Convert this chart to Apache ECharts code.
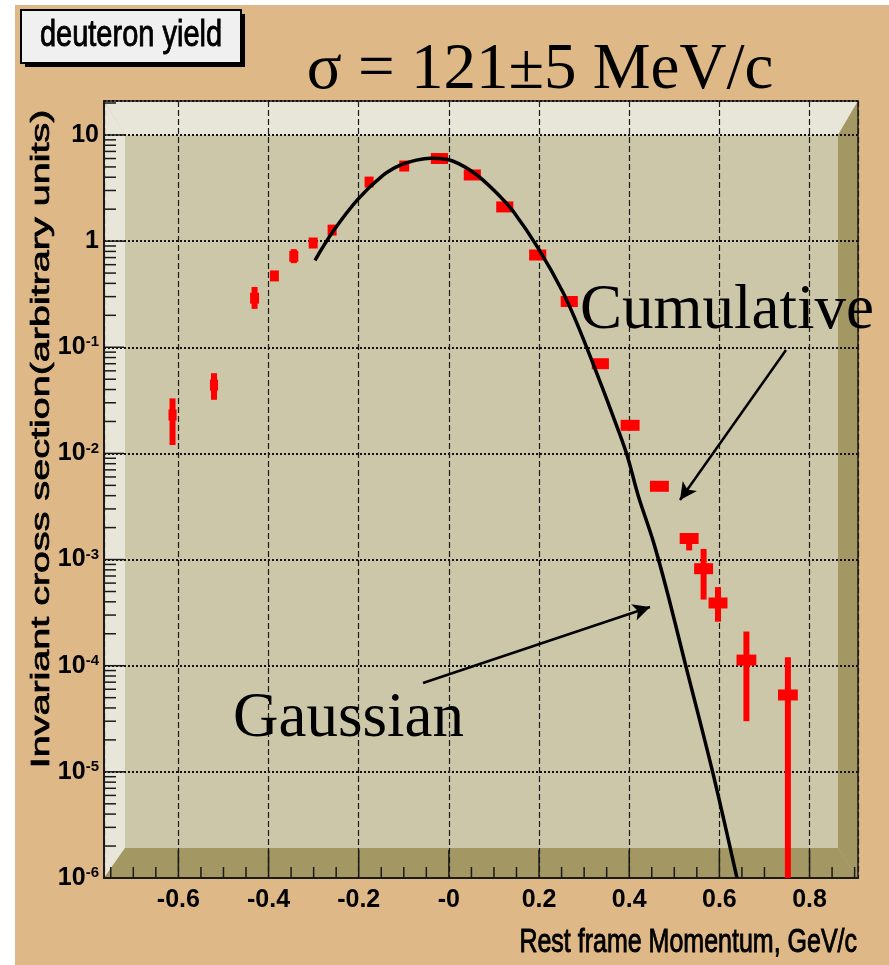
<!DOCTYPE html>
<html>
<head>
<meta charset="utf-8">
<title>deuteron yield</title>
<script src="https://cdn.jsdelivr.net/npm/echarts@6/dist/echarts.min.js"></script>
<style>
  html, body { margin: 0; padding: 0; background: #fff; }
  #main { width: 889px; height: 965px; }
</style>
</head>
<body>
<div id="main"></div>
<script>
// measured deuteron yield: momentum (GeV/c), value, error band, half bin width
var pointX    = [-0.613, -0.521, -0.431, -0.387, -0.344, -0.301, -0.259, -0.177, -0.099, -0.021, 0.052,
                 0.124, 0.197, 0.267, 0.336, 0.402, 0.467, 0.533, 0.565, 0.597, 0.660, 0.752];
var pointY    = [0.023, 0.044, 0.29, 0.47, 0.72, 0.96, 1.27, 3.6, 5.1, 6.0, 4.2,
                 2.1, 0.74, 0.27, 0.070, 0.0184, 0.0049, 0.00158, 0.00082, 0.00039, 0.000113, 0.000053];
var pointLo   = [0.012, 0.032, 0.23, 0.43, 0.62, 0.87, 1.15, 3.3, 4.7, 5.5, 3.9,
                 1.9, 0.68, 0.25, 0.064, 0.017, 0.0045, 0.00122, 0.00042, 0.00026, 0.00003, 0.000001];
var pointHi   = [0.033, 0.057, 0.37, 0.52, 0.84, 1.06, 1.40, 4.0, 5.5, 6.5, 4.6,
                 2.3, 0.80, 0.29, 0.076, 0.020, 0.0053, 0.00172, 0.00126, 0.00055, 0.00021, 0.00012];
var pointXErr = [0.009, 0.009, 0.010, 0.010, 0.010, 0.010, 0.010, 0.010, 0.011, 0.019, 0.019,
                 0.019, 0.019, 0.019, 0.019, 0.021, 0.021, 0.021, 0.021, 0.021, 0.022, 0.022];

// gaussian fit curve
var curveX = [-0.297, -0.256, -0.201, -0.145, -0.108, -0.072, -0.040, -0.005, 0.054, 0.113,
              0.143, 0.198, 0.253, 0.290, 0.341, 0.360, 0.394, 0.420, 0.453, 0.483, 0.523, 0.585, 0.639];
var curveY = [0.66, 1.25, 2.5, 4.2, 5.2, 5.8, 6.05, 5.9, 4.45, 2.65,
              1.9, 0.86, 0.33, 0.146, 0.041, 0.025, 0.0100, 0.0040, 0.00150, 0.00052, 0.000110, 0.0000100, 0.0000010];

var xMajorTicks = [-0.6, -0.4, -0.2, 0, 0.2, 0.4, 0.6, 0.8];
var xMinorTicks = [-0.75, -0.7, -0.65, -0.55, -0.5, -0.45, -0.35, -0.3, -0.25, -0.15, -0.1, -0.05,
                   0.05, 0.1, 0.15, 0.25, 0.3, 0.35, 0.45, 0.5, 0.55, 0.65, 0.7, 0.75, 0.85, 0.9];
var yDecades = [1e-6, 1e-5, 1e-4, 1e-3, 1e-2, 1e-1, 1, 10];
var yMinorFactors = [2, 3, 4, 5, 6, 7, 8, 9];

var xMin = -0.765, xMax = 0.9075;
var yMin = 1e-6, yMax = 20.9;

var rootFont = "'Liberation Sans Narrow', 'Liberation Sans', Arial, sans-serif";
var sansFont = "'Liberation Sans', Arial, sans-serif";
var serifFont = "'Liberation Serif', 'DejaVu Serif', serif";

var chart = echarts.init(document.getElementById('main'));

var points = pointX.map(function (x, i) {
  return [x, pointY[i], pointLo[i], pointHi[i], pointXErr[i]];
});
var curve = curveX.map(function (x, i) { return [x, curveY[i]]; });

var xTicks = [];
xMajorTicks.forEach(function (v) { xTicks.push([v, yMin, 1]); });
xMinorTicks.forEach(function (v) { xTicks.push([v, yMin, 0]); });
var yTicks = [];
yDecades.forEach(function (d) {
  yTicks.push([xMin, d, 1]);
  yMinorFactors.forEach(function (f) {
    if (d * f <= yMax) yTicks.push([xMin, d * f, 0]);
  });
});

function renderXTick(params, api) {
  var p = api.coord([api.value(0), yMin]);
  var len = api.value(2) ? 28 : 11;
  return { type: 'line', shape: { x1: p[0], y1: p[1], x2: p[0], y2: p[1] - len },
           style: { stroke: '#1a1a1a', lineWidth: 1.5 } };
}
function renderYTick(params, api) {
  var p = api.coord([xMin, api.value(1)]);
  var len = api.value(2) ? 20 : 12;
  return { type: 'line', shape: { x1: p[0], y1: p[1], x2: p[0] + len, y2: p[1] },
           style: { stroke: '#1a1a1a', lineWidth: 1.5 } };
}
function renderPoint(params, api) {
  var x = api.value(0), y = api.value(1);
  var c = api.coord([x, y]);
  var l = api.coord([x - api.value(4), y])[0];
  var r = api.coord([x + api.value(4), y])[0];
  var top = api.coord([x, api.value(3)])[1];
  var bot = api.coord([x, api.value(2)])[1];
  return { type: 'group', children: [
    { type: 'rect', shape: { x: l, y: c[1] - 5.5, width: r - l, height: 11 }, style: { fill: '#ff0000' } },
    { type: 'rect', shape: { x: c[0] - 3, y: top, width: 6, height: bot - top }, style: { fill: '#ff0000' } }
  ] };
}

// frame bevel (ROOT style)
var L = 104, T = 101, R = 858, B = 878, il = 125, it = 135, ir = 838, ib = 848;

var option = {
  backgroundColor: '#ffffff',
  animation: false,
  grid: { left: L, top: T, width: R - L, height: B - T, show: true,
          backgroundColor: 'transparent', borderColor: '#1a1a1a', borderWidth: 1.5 },
  xAxis: {
    type: 'value', min: xMin, max: xMax, splitNumber: 8,
    axisLine: { onZero: false, lineStyle: { color: '#1a1a1a', width: 2 } },
    axisTick: { show: false },
    axisLabel: {
      margin: 10, color: '#000', fontSize: 25, fontWeight: 'bold', fontFamily: rootFont,
      showMinLabel: false, showMaxLabel: false,
      formatter: function (v) {
        if (Math.abs(v - Math.round(v / 0.2) * 0.2) > 1e-6) return '';
        var r = Math.round(v * 10) / 10;
        return r === 0 ? '-0' : r.toFixed(1);
      }
    },
    splitLine: { show: true, lineStyle: { color: '#1a1a1a', width: 1.2, type: [6, 3] } }
  },
  yAxis: {
    type: 'log', logBase: 10, min: yMin, max: yMax,
    axisLine: { onZero: false, lineStyle: { color: '#1a1a1a', width: 2 } },
    axisTick: { show: false },
    axisLabel: {
      margin: 5, color: '#000', fontFamily: rootFont, fontWeight: 'bold', fontSize: 25,
      formatter: function (v) {
        var e = Math.log10(v);
        if (Math.abs(e - Math.round(e)) > 1e-6) return '';
        e = Math.round(e);
        if (e === 1) return '{b|10}';
        if (e === 0) return '{b|1}';
        return '{b|10}{s|' + e + '}';
      },
      rich: {
        b: { fontSize: 25, fontWeight: 'bold', fontFamily: rootFont, color: '#000' },
        s: { fontSize: 15, fontWeight: 'bold', fontFamily: rootFont, color: '#000', verticalAlign: 'top' }
      }
    },
    splitLine: { show: true, lineStyle: { color: '#111', width: 2, type: [2, 2] } }
  },
  graphic: [
    { type: 'rect', z: -30, shape: { x: 15, y: 5, width: 874, height: 960 }, style: { fill: '#deb887' } },
    { type: 'rect', z: -20, shape: { x: L, y: T, width: R - L, height: B - T }, style: { fill: '#cdc7a9' } },
    { type: 'polygon', z: -15, shape: { points: [[L, T], [R, T], [ir, it], [il, it]] }, style: { fill: '#e8e5d9' } },
    { type: 'polygon', z: -15, shape: { points: [[L, T], [il, it], [il, ib], [L, B]] }, style: { fill: '#e8e5d9' } },
    { type: 'polygon', z: -15, shape: { points: [[L, B], [il, ib], [ir, ib], [R, B]] }, style: { fill: '#a39763' } },
    { type: 'polygon', z: -15, shape: { points: [[R, T], [ir, it], [ir, ib], [R, B]] }, style: { fill: '#a39763' } },
    // stat box
    { type: 'rect', z: 10, shape: { x: 25, y: 14, width: 220, height: 53 }, style: { fill: '#000' } },
    { type: 'rect', z: 11, shape: { x: 21, y: 10, width: 220, height: 53 },
      style: { fill: '#f0f0f0', stroke: '#000', lineWidth: 2 } },
    { type: 'text', z: 12, x: 131, y: 36, scaleY: 1.3,
      style: { text: 'deuteron yield', font: '29px ' + sansFont, fill: '#000', stroke: '#000', lineWidth: 0.7,
               align: 'center', verticalAlign: 'middle' } },
    // axis titles
    { type: 'text', z: 12, x: 42, y: 439, rotation: Math.PI / 2, scaleX: 1.58,
      style: { text: 'Invariant cross section(arbitrary units)', font: '25px ' + sansFont,
               fill: '#000', stroke: '#000', lineWidth: 0.7, align: 'center', verticalAlign: 'middle' } },
    { type: 'text', z: 12, x: 857, y: 943, scaleY: 1.35,
      style: { text: 'Rest frame Momentum, GeV/c', font: '25px ' + sansFont,
               fill: '#000', stroke: '#000', lineWidth: 0.7, align: 'right', verticalAlign: 'middle' } },
    // annotations
    { type: 'text', z: 12, x: 540, y: 71,
      style: { text: 'σ = 121±5 MeV/c', font: '65px ' + serifFont, fill: '#000', align: 'center', verticalAlign: 'middle' } },
    { type: 'text', z: 12, x: 580, y: 311,
      style: { text: 'Cumulative', font: '63px ' + serifFont, fill: '#000', align: 'left', verticalAlign: 'middle' } },
    { type: 'text', z: 12, x: 233, y: 719,
      style: { text: 'Gaussian', font: '63px ' + serifFont, fill: '#000', align: 'left', verticalAlign: 'middle' } }
  ],
  series: [
    { name: 'xTicks', type: 'custom', renderItem: renderXTick, data: xTicks, encode: { x: 0, y: 1 }, z: 3, silent: true, clip: false },
    { name: 'yTicks', type: 'custom', renderItem: renderYTick, data: yTicks, encode: { x: 0, y: 1 }, z: 3, silent: true, clip: false },
    { name: 'Cumulative', type: 'custom', renderItem: renderPoint, data: points, encode: { x: 0, y: 1 }, z: 4, clip: true },
    {
      name: 'Gaussian', type: 'line', data: curve, smooth: 0.35, showSymbol: false, z: 5,
      lineStyle: { color: '#000', width: 3.5 }, itemStyle: { color: '#000' },
      markLine: {
        silent: true, symbol: ['none', 'arrow'], symbolSize: [13, 17],
        label: { show: false },
        lineStyle: { color: '#000', width: 2.5, type: 'solid' },
        data: [
          [{ x: 786, y: 350 }, { x: 680, y: 500 }],
          [{ x: 423, y: 683 }, { x: 650, y: 607 }]
        ]
      }
    }
  ]
};
chart.setOption(option);
</script>
</body>
</html>
